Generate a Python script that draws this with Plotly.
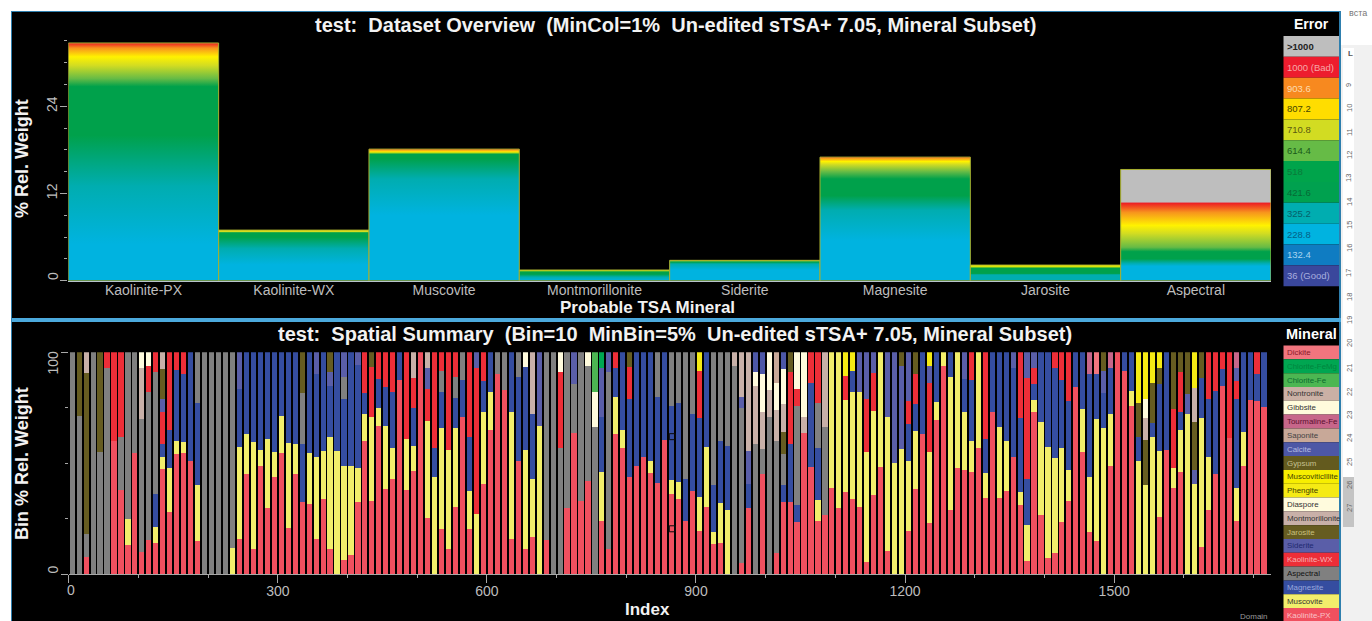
import plotly.graph_objects as go

W, H = 1372, 621

# ---------- top panel: weight per mineral, with height at which each error level is reached
overview_minerals = ["Kaolinite-PX", "Kaolinite-WX", "Muscovite", "Montmorillonite", "Siderite", "Magnesite", "Jarosite", "Aspectral"]
overview_totals = [32.7, 6.96, 18.1, 1.47, 2.8, 17.0, 2.15, 15.3]

px_weight = [0, 5, 13, 20, 26.7, 27.8, 29.6, 30.8, 32, 32.7]
px_error = [228.8, 228.8, 325.2, 421.6, 518, 614.4, 710.8, 807.2, 903.6, 1000]
wx_weight = [0, 2.2, 4.4, 6.0, 6.6, 6.75, 6.96]
wx_error = [228.8, 228.8, 325.2, 421.6, 518, 710.8, 807.2]
mus_weight = [0, 9, 14, 16.8, 17.4, 17.7, 18.0, 18.1]
mus_error = [228.8, 228.8, 325.2, 421.6, 518, 807.2, 903.6, 1000]
mon_weight = [0, 0.5, 0.9, 1.2, 1.47]
mon_error = [228.8, 325.2, 421.6, 518, 807.2]
sid_weight = [0, 1.5, 2.3, 2.55, 2.7, 2.8]
sid_error = [228.8, 228.8, 325.2, 421.6, 614.4, 807.2]
mag_weight = [0, 5.5, 9.7, 11.7, 14, 15, 16, 16.4, 16.85, 17.0]
mag_error = [228.8, 228.8, 325.2, 421.6, 518, 614.4, 710.8, 807.2, 903.6, 1000]
jar_weight = [0, 0.8, 1.0, 1.7, 2.0, 2.15]
jar_error = [325.2, 325.2, 421.6, 518, 807.2, 807.2]
asp_weight = [0, 2.0, 2.4, 3.0, 4.0, 4.6, 6.5, 7.6, 9.4, 10.7, 10.8, 15.3]
asp_error = [228.8, 228.8, 325.2, 421.6, 518, 614.4, 710.8, 807.2, 903.6, 1000, 1001, 1001]
overview_profiles = [(px_weight, px_error), (wx_weight, wx_error), (mus_weight, mus_error), (mon_weight, mon_error),
                     (sid_weight, sid_error), (mag_weight, mag_error), (jar_weight, jar_error), (asp_weight, asp_error)]

error_labels = [">1000", "1000 (Bad)", "903.6", "807.2", "710.8", "614.4", "518", "421.6", "325.2", "228.8", "132.4", "36 (Good)"]
error_colors = ["#BEBEBE", "#ED1C2E", "#F7891F", "#FFDD00", "#D2DC22", "#66BB46", "#00A44B", "#00A14F", "#00ADB0", "#00B3E0", "#0F7CC2", "#3A479C"]
error_text = ["#222222", "#F6A8A8", "#FCDCB0", "#444400", "#5A5A10", "#1A5A1A", "#0A7A3A", "#066A35", "#06606A", "#055F85", "#A8D4EF", "#A8AEDE"]
error_lookup = {1001: "#BEBEBE", 1000: "#ED1C24", 903.6: "#F7941D", 807.2: "#FFF200", 710.8: "#D2DC22", 614.4: "#66BB46",
                518: "#00A14B", 421.6: "#00A14B", 325.2: "#00ADB0", 228.8: "#00B3E0"}

# ---------- bottom panel: percent per 10-index bin, {bin number: percent}, bottom of stack first
bin_count = 172
bin_size = 10
kaolinite_px = {2:8,6:60,7:38,8:13,9:54.5,10:10,11:15.5,12:14,13:47.5,14:28,15:54,16:54.5,17:51,18:15,24:16,25:45,26:11.5,27:49,28:30,29:44,30:54.5,31:21,32:45,33:32.5,34:31.5,35:16,36:34,37:11.5,39:6.5,40:8.5,41:32.5,42:60,43:33,44:67,45:38.5,46:43,47:87.5,48:38,49:46.5,50:100,51:25.5,53:20.5,54:11.5,55:30.5,56:71,57:20.5,59:40.5,60:65,61:90,62:83,63:16,64:51,65:11.5,66:17,68:15.5,71:30,72:63.5,73:33,74:42,76:24,77:11.5,78:63,79:57,80:44,81:49,82:53,83:45.5,84:41,85:60.5,86:36,87:34,88:24,89:37.5,90:19.5,91:30.5,92:13.5,93:14,96:5,97:30,99:45,101:9.5,102:32.5,103:32.5,104:23.5,105:63.5,106:48.5,107:24,108:26.5,109:39,110:30,111:37,112:34,113:30.5,114:5.5,115:35.5,116:48.5,117:10.5,120:19.5,121:38.5,122:63,123:23,124:69.5,125:94,126:29,127:48,128:47,129:46,130:57,131:34.5,132:73,133:34.5,134:37.5,135:53,136:31,137:6,138:73,139:26.5,140:7.5,141:9.5,142:23.5,143:33,144:84.5,145:55,146:19,147:15,149:49,150:100,151:91.5,152:76,156:26,157:56,158:39,159:46,162:12.5,163:29,164:45,165:85,166:61.5,167:24,168:49,169:78.5,170:78,171:75.5}
muscovite = {8:12,12:7.5,13:5.5,14:20,15:6,16:5,18:25,23:12,24:41.5,25:18,26:48,27:7,28:31,29:11,30:17,31:38,32:13.5,34:23,35:37,36:21.5,37:50.5,38:55.5,39:42.5,40:40.5,41:15.5,42:12,43:38,44:8,45:28.5,46:14,48:23,49:11.5,51:43.5,52:44,53:45.5,54:44.5,55:35.5,57:17,58:27,59:32.5,60:17,63:57,65:44.5,66:26,67:67,76:22,78:17,79:8,83:5.5,86:6.5,87:7.5,90:15.5,91:27,92:5.5,93:18,94:29,107:9.5,109:61,110:70,111:41.5,112:48,113:51.5,114:49.5,115:38,116:51.5,117:60.5,118:50,119:56.5,120:31.5,121:26,123:32,124:8,125:6,126:60,127:52,128:26,129:14,130:43,131:11,133:32,134:22.5,136:6,137:16,138:5.5,139:42,140:50,141:43,142:33.5,143:14,145:19.5,146:25,147:55,148:66,149:23,152:6.5,153:51,154:40,155:62,156:29.5,158:9,159:19,160:72,161:40.5,162:58,163:24,167:15,168:15}
magnesite = {12:14.5,13:5.5,14:17,15:32,16:30.5,17:49,18:37,24:26,25:37,26:40.5,27:44,28:39,29:45,30:28.5,31:41,32:41.5,33:26,34:45.5,35:37,36:44.5,37:23,38:44.5,39:30,40:51,41:46.5,42:9.5,44:13,45:17.5,46:25,47:12.5,49:17,52:13,53:16,55:13.5,56:16.5,57:24.5,59:14,60:18,63:27,64:38,65:37.5,66:29,76:25,78:13,79:35,80:35,81:51,82:47,83:49,84:39,85:39.5,86:33.5,87:35.5,88:19,89:34.5,90:35.5,91:42.5,92:21,93:28,94:29,97:10.5,102:7.5,103:26,104:7.5,106:37.5,107:23.5,112:9.5,120:16.5,121:12,122:37,124:22.5,126:11,128:15,129:27.5,131:15.5,132:27,133:33.5,134:40,135:40,136:33.5,137:21,138:7,139:31.5,140:42.5,141:40.5,142:30.5,143:31,144:15.5,145:25.5,146:46,147:20,148:15.5,149:21,151:8.5,152:17.5,153:11,155:6,156:30,157:44,159:8,162:18,163:26,164:37.5,165:7.5,167:40,168:36,169:21.5,170:12,171:24.5}
aspectral = {0:100,1:71.5,2:10,3:100,4:55,5:93,7:24,8:75,9:45.5,10:60,11:66.5,12:55,18:23,19:100,20:100,21:100,22:100,23:88,33:23,39:10,53:9.5,55:9.5,56:12.5,61:10,62:17,64:11,68:84.5,69:100,70:57,71:70,72:22,73:67,74:52,75:66.5,77:79.5,84:20,86:24,87:23,88:57,89:28,92:60,93:40,94:42,95:94,96:70,98:58.5,99:11.5,100:71,101:50.5,102:14,104:45,107:20,108:40}
kaolinite_wx = {5:7,6:40,7:38,11:12,12:9,13:14.5,14:35,15:8,16:10,42:18.5,43:22.5,44:12,45:15.5,46:18,48:39,49:13.5,51:14.5,52:43,53:8.5,54:44,55:11,57:38,58:66,59:13,70:34,78:7,80:14.5,90:21,103:32.5,104:7.5,106:14,107:23,111:11,114:24,115:17,120:10.5,121:13.5,123:31,129:12.5,131:39,136:29.5,137:45.5,138:7.5,141:7,142:12.5,143:22,158:26.5,159:18,163:21,164:17.5,165:7.5,166:38.5,167:8,170:10}
siderite = {13:6,24:16.5,35:10,37:6,39:11,41:5.5,51:9.5,58:7,67:33,72:14.5,76:22,77:9,96:5,97:15,113:18,114:21,115:9.5,117:29,118:50,119:37.5,120:22,123:8,128:12,135:7,137:11.5,138:7,148:10,160:9,161:6.5,167:6}
jarosite = {1:28.5,2:72.5,4:45,13:13.5,33:18.5,37:9,43:6.5,80:6.5,102:10,103:9,119:6,121:10,148:8.5,153:15,154:20.5,155:18,156:7.5,158:25.5,159:9,160:19,161:21.5,162:11.5}
montmorillonite = {2:9.5,10:23,13:7.5,49:11.5,51:7,66:28,95:6,96:20,97:44.5,98:26.5,99:16.5,100:12,101:14,102:12.5,105:7.5,108:33.5,154:10,161:15.5}
diaspore = {10:7,11:6,65:6.5,70:9,74:6,75:15.5,98:6,99:17,100:17,101:12,102:16,104:16.5,105:29,154:8.5}
phengite = {90:8.5,111:10.5,112:8.5,123:6,153:23,154:21,155:14,156:7,161:16}
calcite = {98:9,99:10,102:7.5}
saponite = {101:14}
tourmaline_fe = {146:10,149:7,167:7}
chlorite_fe = {75:18}
chlorite_femg = {76:7}
dickite = {147:10}

selected_index = [866, 866]
selected_weight = [62, 20.5]

mineral_labels = ["Dickite", "Chlorite-FeMg", "Chlorite-Fe", "Nontronite", "Gibbsite", "Tourmaline-Fe", "Saponite", "Calcite", "Gypsum", "MuscoviticIllite", "Phengite", "Diaspore", "Montmorillonite", "Jarosite", "Siderite", "Kaolinite-WX", "Aspectral", "Magnesite", "Muscovite", "Kaolinite-PX"]
mineral_colors = ["#F2757E", "#00A651", "#4CB652", "#CBB0A5", "#FFFBDC", "#C7668A", "#C8A898", "#4D57A6", "#635A1E", "#F7EE00", "#F5EA14", "#FFFBDD", "#C8B0A8", "#665C21", "#5A5EA8", "#ED2E38", "#808080", "#354DA0", "#F2EE6B", "#F0505F"]
mineral_text = ["#8A1A2A", "#00853E", "#0A6B30", "#333333", "#333333", "#5B1030", "#444444", "#B5BCE0", "#C5C090", "#444400", "#444400", "#333333", "#333333", "#C9C07E", "#222A70", "#F7B0B0", "#111111", "#9AA8DC", "#333333", "#F9C3C8"]
mineral_series = {"Kaolinite-PX": kaolinite_px, "Muscovite": muscovite, "Magnesite": magnesite, "Aspectral": aspectral,
                  "Kaolinite-WX": kaolinite_wx, "Siderite": siderite, "Jarosite": jarosite, "Montmorillonite": montmorillonite,
                  "Diaspore": diaspore, "Phengite": phengite, "Calcite": calcite, "Saponite": saponite,
                  "Tourmaline-Fe": tourmaline_fe, "Chlorite-Fe": chlorite_fe, "Chlorite-FeMg": chlorite_femg, "Dickite": dickite}

ruler_labels = [9, 10, 11, 12, 13, 14, 15, 16, 17, 18, 19, 20, 21, 22, 23, 24, 25, 26, 27]
ruler_rows = [85, 108, 132, 155, 178, 202, 225, 248, 273, 297, 320, 343, 368, 392, 415, 438, 462, 485, 508]

index_ticks = [0, 300, 600, 900, 1200, 1500]
index_tick_text = ["", "300", "600", "900", "1200", "1500"]

FONT = "Liberation Sans"


def fx(p):
    return p / W


def fy(p):
    return 1 - p / H


fig = go.Figure()

# overview bars, each a rectangle filled with its error gradient
for i, (total, (weights, errors)) in enumerate(zip(overview_totals, overview_profiles)):
    scale = [[w / total, error_lookup[e]] for w, e in zip(weights, errors)]
    fig.add_trace(go.Scatter(
        x=[i - 0.5, i - 0.5, i + 0.5, i + 0.5, i - 0.5], y=[0, total, total, 0, 0],
        mode="lines", fill="toself", line=dict(color="#A8B030", width=1),
        fillgradient=dict(type="vertical", colorscale=scale, start=0, stop=total),
        name=overview_minerals[i], hoverinfo="name", xaxis="x", yaxis="y", showlegend=False))

# spatial stacked bars
bin_starts = [(b + 0.5) * bin_size for b in range(bin_count)]
color_of = dict(zip(mineral_labels, mineral_colors))
for name, values in mineral_series.items():
    fig.add_trace(go.Bar(x=bin_starts, y=[values.get(b, 0) for b in range(bin_count)], name=name,
                         marker=dict(color=color_of[name], line=dict(width=0)), xaxis="x2", yaxis="y2", showlegend=False))

fig.add_trace(go.Scatter(x=selected_index, y=selected_weight, mode="markers", xaxis="x2", yaxis="y2", showlegend=False,
                         marker=dict(symbol="square-open", size=6, color="#0A0A0A", line=dict(width=1, color="#0A0A0A"))))

shapes = []
annotations = []


def rect(x0, y0, x1, y1, color, layer="below"):
    shapes.append(dict(type="rect", xref="paper", yref="paper", x0=fx(x0), x1=fx(x1), y0=fy(y0), y1=fy(y1),
                       fillcolor=color, line=dict(width=0), layer=layer))


def label(text, x, y, size, color, bold=False, angle=0, anchor="center"):
    annotations.append(dict(text=f"<b>{text}</b>" if bold else text, xref="paper", yref="paper", x=fx(x), y=fy(y),
                            showarrow=False, xanchor=anchor, yanchor="middle", textangle=angle,
                            font=dict(family=FONT, size=size, color=color)))


# page furniture
rect(1341, 0, W, H, "#F1F1F1")
rect(1341, 0, W, 45, "#FFFFFF")
rect(1343, 48, 1354, 477, "#FFFFFF")
rect(1343, 477, 1354, 527, "#C4C4C4")
rect(11, 11, 1341, H, "#2E7FAE")
rect(12, 12, 1339, H, "#000000")
rect(12, 318, 1341, 322, "#4BA9DC")

# legends
for i, (t, c, tc) in enumerate(zip(error_labels, error_colors, error_text)):
    y0 = 36 + i * 20.85
    rect(1283.5, y0, 1339, y0 + 20.85, c)
    label(t, 1285, y0 + 10.4, 9.5, tc, bold=(i == 0), anchor="left")
for i, (t, c, tc) in enumerate(zip(mineral_labels, mineral_colors, mineral_text)):
    y0 = 345.5 + i * 13.82
    rect(1283.5, y0, 1339, y0 + 13.82, c)
    label(t, 1285, y0 + 7, 7.9, tc, anchor="left")
label("Error", 1311, 24.5, 14, "#FFFFFF", bold=True)
label("Mineral", 1311, 334.5, 14.5, "#FFFFFF", bold=True)

# titles
label("test:  Dataset Overview  (MinCol=1%  Un-edited sTSA+ 7.05, Mineral Subset)", 675, 25, 20, "#F2F2F2", bold=True)
label("test:  Spatial Summary  (Bin=10  MinBin=5%  Un-edited sTSA+ 7.05, Mineral Subset)", 675, 334, 20, "#F2F2F2", bold=True)
label("Probable TSA Mineral", 647, 307.5, 17, "#F2F2F2", bold=True)
label("Index", 647, 609.5, 17, "#F2F2F2", bold=True)
label("% Rel. Weight", 22, 159, 18, "#F2F2F2", bold=True, angle=-90)
label("Bin % Rel. Weight", 22, 464, 18, "#F2F2F2", bold=True, angle=-90)
label("Domain", 1254, 616.5, 8, "#9A9A9A")

# end tick labels that sit inside the axis ends, as in the picture
TICKTEXT = "#BDBDBD"
label("0", 52.5, 276.5, 14, TICKTEXT, angle=-90)
label("100", 52.5, 363, 14, TICKTEXT, angle=-90)
label("0", 52.5, 570, 14, TICKTEXT, angle=-90)
label("0", 71, 590, 14, TICKTEXT)

# word-processor ruler at the right edge
for n, y in zip(ruler_labels, ruler_rows):
    label(str(n), 1349, y, 7.5, "#666666", angle=-90)
label("L", 1350, 53, 8, "#555555", bold=True)
label("вста", 1358, 13, 9, "#777777")

TICK = "#A8A8A8"
axis_font = dict(family=FONT, size=14, color=TICKTEXT)
fig.update_layout(
    width=W, height=H, autosize=False, margin=dict(l=0, r=0, t=0, b=0, pad=0, autoexpand=False),
    paper_bgcolor="#FFFFFF", plot_bgcolor="rgba(0,0,0,0)", barmode="stack", bargap=0.26, bargroupgap=0,
    showlegend=False, shapes=shapes, annotations=annotations,
    font=dict(family=FONT),
    xaxis=dict(domain=[fx(68.3), fx(1271)], range=[-0.5, 7.5], tickmode="array", tickvals=list(range(8)),
               ticktext=overview_minerals, ticks="", showgrid=False, zeroline=False, showline=True, linecolor="#B8C4CC",
               linewidth=1, tickfont=axis_font, ticklabelstandoff=-4, anchor="y"),
    yaxis=dict(domain=[fy(280.7), fy(40.8)], range=[0, 33], tickmode="array", tickvals=[0, 12, 24], ticktext=["", "12", "24"],
               ticks="outside", ticklen=7, tickcolor=TICK, tickangle=-90, showgrid=False, zeroline=False, showline=False,
               tickfont=axis_font, ticklabelstandoff=-2, anchor="x",
               minor=dict(dtick=3, tick0=0, ticks="outside", ticklen=3, tickcolor=TICK, showgrid=False)),
    xaxis2=dict(domain=[fx(68.7), fx(1271)], range=[0, 1725], tickmode="array", tickvals=index_ticks, ticktext=index_tick_text,
                ticks="outside", ticklen=8, tickcolor=TICK, showgrid=False, zeroline=False, showline=True, linecolor="#A8A8A8",
                linewidth=1, tickfont=axis_font, ticklabelstandoff=-4, anchor="y2",
                minor=dict(dtick=100, tick0=0, ticks="outside", ticklen=3, tickcolor=TICK, showgrid=False)),
    yaxis2=dict(domain=[fy(574.3), fy(352.3)], range=[0, 100], tickmode="array", tickvals=[0, 100], ticktext=["", ""],
                ticks="outside", ticklen=7, tickcolor=TICK, showgrid=False, zeroline=False, showline=False, anchor="x2",
                minor=dict(dtick=25, tick0=0, ticks="outside", ticklen=3, tickcolor=TICK, showgrid=False)),
)

fig.write_html("out.html", config=dict(displayModeBar=False),
               post_script="document.body.style.margin='0';document.documentElement.style.overflow='hidden';")
